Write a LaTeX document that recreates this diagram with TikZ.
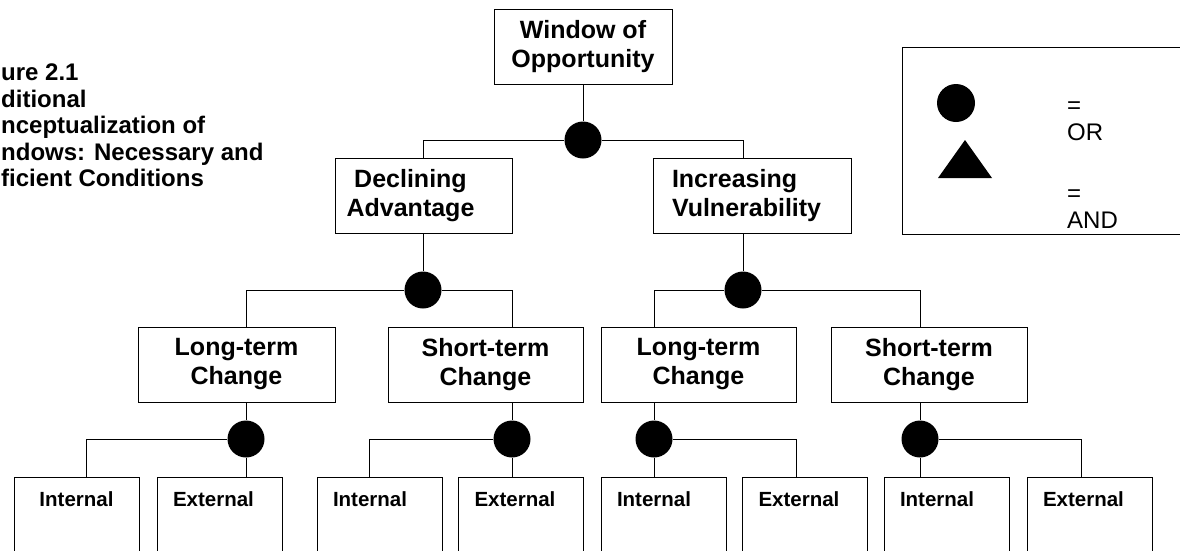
\documentclass[tikz,border=0pt]{standalone}
\usepackage{fontspec}
\setmainfont{Liberation Sans}
\newcommand{\drawwire}{\draw[line width=1pt]}
\newcommand{\boxfont}{\bfseries\fontsize{25}{29}\selectfont}
\tikzset{
  box/.style={draw, line width=1pt, font=\boxfont, align=center, minimum height=75pt, inner sep=0pt},
  leaf/.style={draw, line width=1pt, font=\bfseries\fontsize{20.5}{24}\selectfont, align=left, text width=93pt, inner xsep=16pt, inner ysep=14pt, text depth=90pt, anchor=north},
  orgate/.style={circle, fill=black, minimum size=37pt, inner sep=0pt},
  keytext/.style={font=\fontsize{24}{27}\selectfont, align=left, anchor=west, inner sep=0pt}
}
\begin{document}
\begin{tikzpicture}[x=1pt,y=-1pt]
\useasboundingbox (0,0) rectangle (1180,550);
\clip (0,0) rectangle (1180,550);
\node[font=\bfseries\fontsize{24}{26.5}\selectfont, align=left, anchor=north west, inner sep=0pt] (caption) at (1,64) {ure 2.1\\ditional\\nceptualization of\\ndows: Necessary and\\ficient Conditions};
\node[box, minimum width=178pt] (root) at (583,47) {Window of\\Opportunity};
\node[box, minimum width=177pt] (dec) at (423.5,196) {Declining\hspace*{26pt}\\Advantage\hspace*{26pt}};
\node[box, minimum width=198pt, align=left, text width=160pt] (inc) at (752,196) {Increasing\\Vulnerability};
\node[box, minimum width=197pt] (lta) at (236.5,364.5) {Long-term\\Change};
\node[box, minimum width=195pt] (sta) at (485.5,364.5) {Short-term\\Change};
\node[box, minimum width=195pt] (ltb) at (698.5,364.5) {Long-term\\Change};
\node[box, minimum width=196pt] (stb) at (929,364.5) {Short-term\\Change};
\node[leaf] (la1) at (77,477) {\hspace*{9pt}Internal};
\node[leaf] (la2) at (219.5,477) {External};
\node[leaf] (sa1) at (379.5,477) {Internal};
\node[leaf] (sa2) at (521,477) {External};
\node[leaf] (lb1) at (663.5,477) {Internal};
\node[leaf] (lb2) at (805,477) {External};
\node[leaf] (sb1) at (946.5,477) {Internal};
\node[leaf] (sb2) at (1089.5,477) {External};
\node[orgate] (g0) at (583,140) {};
\node[orgate] (g1) at (423,290) {};
\node[orgate] (g2) at (743,290) {};
\node[orgate] (g3) at (246,439) {};
\node[orgate] (g4) at (512,439) {};
\node[orgate] (g5) at (654,439) {};
\node[orgate] (g6) at (920,439) {};
\drawwire (root) -- (g0);
\drawwire (g0) -| (dec.north -| g1);
\drawwire (g0) -| (inc.north -| g2);
\drawwire (dec.south -| g1) -- (g1);
\drawwire (inc.south -| g2) -- (g2);
\drawwire (g1) -| (lta.north -| g3);
\drawwire (g1) -| (sta.north -| g4);
\drawwire (g2) -| (ltb.north -| g5);
\drawwire (g2) -| (stb.north -| g6);
\drawwire (lta.south -| g3) -- (g3);
\drawwire (sta.south -| g4) -- (g4);
\drawwire (ltb.south -| g5) -- (g5);
\drawwire (stb.south -| g6) -- (g6);
\drawwire (g3) -| ([xshift=9pt]la1.north);
\drawwire (g3) -- (la2.north -| g3);
\drawwire (g4) -| ([xshift=-10.5pt]sa1.north);
\drawwire (g4) -- (sa2.north -| g4);
\drawwire (g5) -- (lb1.north -| g5);
\drawwire (g5) -| ([xshift=-9pt]lb2.north);
\drawwire (g6) -- (sb1.north -| g6);
\drawwire (g6) -| ([xshift=-8.5pt]sb2.north);
\node[draw, line width=1pt, minimum width=300pt, minimum height=187pt, anchor=north west, inner sep=0pt] (key) at (902,47) {};
\node[orgate, minimum size=38pt] (keyor) at (956,103) {};
\fill (938,178) -- (992,178) -- (965,140) -- cycle;
\node[keytext] (keyortext) at (1067,121) {=\\OR};
\node[keytext] (keyandtext) at (1067,209) {=\\AND};
\end{tikzpicture}
\end{document}
